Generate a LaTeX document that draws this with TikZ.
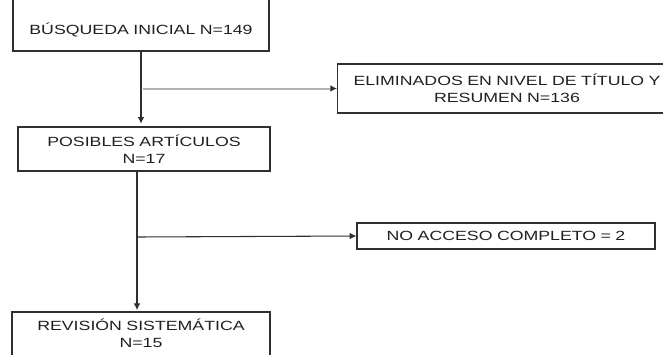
\documentclass[tikz,border=0pt]{standalone}
\usepackage{fontspec}
\setmainfont{Liberation Sans}[FakeStretch=1.33]
\usepackage{tikz}
\usetikzlibrary{arrows.meta}
\definecolor{boxline}{HTML}{303030}
\definecolor{txtgray}{HTML}{202020}
\tikzstyle{flowbox} = [draw=boxline, line width=0.9pt, rectangle, inner sep=0pt, align=center, text=txtgray, font=\fontsize{10}{12.75}\selectfont]
\tikzstyle{flowline} = [draw=boxline, line width=0.8pt, -{Latex[length=5pt,width=5pt,color=boxline]}]

\begin{document}
\begin{tikzpicture}[x=0.75pt, y=-0.75pt]
      \clip (0,0) rectangle (663,354);
      \node[flowbox, anchor=base, text width=192pt, text height=33pt, text depth=12.75pt] (busqueda) at (141,34) {BÚSQUEDA INICIAL N=149};
      \node[flowbox, text width=254pt, minimum height=36.75pt] (eliminados) at (507,88.5) {ELIMINADOS EN NIVEL DE TÍTULO Y\\RESUMEN N=136};
      \node[flowbox, text width=189pt, minimum height=33pt] (posibles) at (144,149) {POSIBLES ARTÍCULOS\\N=17};
      \node[flowbox, text width=223.5pt, minimum height=19.5pt] (noacceso) at (506,236) {NO ACCESO COMPLETO = 2};
      \node[flowbox, anchor=base, text width=193.5pt, text height=13.5pt, text depth=45pt] (revision) at (141,330) {REVISIÓN SISTEMÁTICA\\N=15};
      \coordinate (split) at (137,237);

      \draw[flowline, shorten >=2pt] (busqueda.south) -- (busqueda.south |- posibles.north);
      \draw[flowline, draw=gray!60, line width=1.5pt, shorten <=1.5pt] (busqueda.south |- eliminados.west) -- (eliminados.west);
      \draw[flowline, shorten >=1pt] (posibles.south -| split) -- (split |- revision.north);
      \draw[flowline] (split) -- (noacceso.west);
    \end{tikzpicture}
\end{document}
